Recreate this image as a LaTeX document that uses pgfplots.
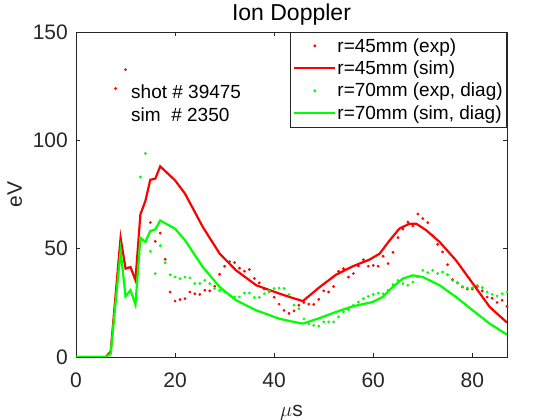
\documentclass[border=0pt]{standalone}
\usepackage{fontspec}
\setmainfont{Liberation Sans}
\usepackage{pgfplots}
\pgfplotsset{compat=1.18}
\definecolor{axgray}{gray}{0.15}
\definecolor{mred}{rgb}{1,0,0}
\definecolor{mgreen}{rgb}{0,1,0}
\begin{document}
\begin{tikzpicture}
\path[use as bounding box] (0bp,0bp) rectangle (560bp,420bp);
\begin{axis}[
  at={(76bp,63bp)}, anchor=south west,
  scale only axis, width=431bp, height=325bp,
  xmin=0, xmax=87, ymin=0, ymax=150,
  xtick={0,20,40,60,80}, ytick={0,50,100,150},
  tick align=inside, major tick length=4.3bp,
  xticklabel pos=lower, yticklabel pos=left,
  axis line style={axgray, line width=0.6bp},
  tick style={axgray, line width=0.6bp},
  /pgf/number format/assume math mode=true,
  ticklabel style={font=\fontsize{21bp}{24bp}\selectfont, text=axgray, inner sep=0pt},
  xticklabel style={anchor=base, yshift=-30bp},
  yticklabel style={anchor=east, xshift=-8bp},
  title={Ion Doppler},
  title style={font=\fontsize{23bp}{26bp}\selectfont, at={(axis description cs:0.5,1)}, anchor=base, yshift=6bp, inner sep=0pt},
  xlabel={$\mu$s},
  xlabel style={font=\fontsize{21bp}{24bp}\selectfont, text=axgray, at={(axis description cs:0.5,0)}, anchor=base, yshift=-59bp, inner sep=0pt},
  clip mode=individual,
  legend cell align=left,
  legend style={at={(1,1)}, anchor=north east, draw=axgray, line width=0.6bp,
    font=\fontsize{19bp}{22bp}\selectfont, fill=white,
    inner xsep=3bp, inner ysep=4.5bp, row sep=4.2bp,
    nodes={inner xsep=1bp, inner ysep=1.5bp}},
  legend image code/.code={\draw[mark repeat=2, mark phase=2, #1] plot coordinates {(0bp,0bp) (20.5bp,0bp) (41bp,0bp)};},
]
% r=45mm exp
\addplot[only marks, mark=*, mark size=1.2bp, color=mred, draw=none] coordinates {
(8,123.9)(10,132.6)(15,62.1)(16,53.4)(17,57.2)(18,45.1)(19,30.0)(20,25.8)
(21,26.5)(22,26.9)(23,30.0)(24,29.2)(25,28.9)(26,30.8)(27,30.5)(28,32.6)
(29,38.2)(30,41.9)(31,44.0)(32,43.6)(33,41.0)(34,39.6)(35,40.4)(36,36.2)
(37,34.2)(38,31.4)(39,30.2)(40,27.6)(41,24.4)(42,21.5)(43,20.1)(44,21.3)
(45,23.9)(46,25.1)(47,24.4)(48,24.3)(49,26.6)(50,30.5)(51,30.0)(52,32.5)
(53,39.5)(54,40.8)(55,36.9)(56,38.5)(57,42.0)(58,44.9)(59,41.9)(60,42.3)
(61,41.9)(62,46.5)(63,43.1)(64,48.3)(65,55.1)(66,59.0)(67,62.3)(68,60.5)
(69,66.0)(70,63.9)(71,62.0)(72,56.0)(73,52.0)(74,48.5)(75,42.6)(76,35.7)
(77,34.2)(78,32.3)(79,31.4)(80,31.4)(81,32.6)(82,30.5)(83,27.7)(84,27.1)
(85,25.2)(86,26.2)(87,23.4)
};
\addlegendentry{r=45mm (exp)}
% r=45mm sim
\addplot[color=mred, line width=2.2bp, mark=none] coordinates {
(0,0)(6,0)(7,2.5)(9,55)(10,40.8)(11,41.5)(12,35.5)(13,65.8)(14,72)(15,81.8)
(16,82.3)(17,88)(20,81.5)(22,75.4)(25.6,60)(29,47.7)(32.3,40)(36.4,33.1)
(41,29.3)(43.1,27.7)(45.8,25.8)(49.2,32.3)(52.5,38)(55.9,41.9)(59.2,44.9)
(61.3,47.7)(63.3,53.8)(65.3,59.3)(67.3,61.5)(68.7,61.5)(70.7,58.5)(73.4,53.1)
(76.7,44.6)(80.1,33.9)(83.5,23.1)(87,15.9)
};
\addlegendentry{r=45mm (sim)}
% r=70mm exp
\addplot[only marks, mark=*, mark size=1.2bp, color=mgreen, draw=none] coordinates {
(13,83.1)(14,93.9)(15,48.8)(16,38.5)(17,51.4)(18,43.5)(19,38.0)(20,36.9)
(21,36.2)(22,36.9)(23,36.5)(24,33.9)(25,33.9)(26,35.4)(27,33.9)(28,31.6)
(29,30.8)(30,30.0)(31,28.5)(32,27.7)(33,27.7)(34,29.5)(35,29.5)(36,27.5)
(37,27.5)(38,29.2)(39,30.5)(40,31.6)(41,31.8)(42,31.6)(43,28.8)(44,23.9)
(45,22.3)(46,17.6)(47,15.4)(48,14.6)(49,14.3)(50,16.2)(51,16.2)(52,16.2)
(53,18.5)(54,20.8)(55,21.9)(56,23.9)(57,25.4)(58,26.9)(59,28.0)(60,28.9)
(61,29.5)(62,29.2)(63,30.8)(64,33.4)(65,35.4)(66,33.9)(67,33.1)(68,34.6)
(69,37.0)(70,40.0)(71,38.9)(72,40.0)(73,38.5)(74,39.2)(75,38.0)(76,35.4)
(77,34.2)(78,32.6)(79,31.8)(80,32.0)(81,33.1)(82,32.0)(83,30.0)(84,28.9)
(85,28.2)(86,29.2)(87,30.0)
};
\addlegendentry{r=70mm (exp, diag)}
% r=70mm sim
\addplot[color=mgreen, line width=2.2bp, mark=none] coordinates {
(0,0)(6,0)(7,1.5)(9,49)(10,28)(11,30.8)(12,24.2)(13,55)(14,53.1)(15,58.2)
(16,58.8)(17,63)(20,59.2)(22,53.9)(25.6,41.5)(29,32.3)(32.3,26.2)(36.4,21.5)
(41,17.7)(43.1,16.6)(45.8,15.4)(49.2,18.0)(52.5,20.8)(55.9,23.4)(59.9,25.4)
(61.9,27.7)(63.9,32.3)(66,36.2)(68,37.7)(70,36.9)(73.4,33.1)(76.7,27.7)
(80.1,21.5)(83.5,15.4)(87,10.3)
};
\addlegendentry{r=70mm (sim, diag)}
\node[anchor=base west, inner sep=0pt, font=\fontsize{19bp}{22bp}\selectfont] at (axis cs:11.1,119.2) {shot \# 39475};
\node[anchor=base west, inner sep=0pt, font=\fontsize{19bp}{22bp}\selectfont] at (axis cs:11.1,108.8) {sim\ \ \# 2350};
\node[rotate=90, anchor=base, inner sep=0pt, text=axgray, font=\fontsize{21bp}{24bp}\selectfont] at (axis description cs:-0.1253,0.5) {eV};
\end{axis}
\end{tikzpicture}
\end{document}
